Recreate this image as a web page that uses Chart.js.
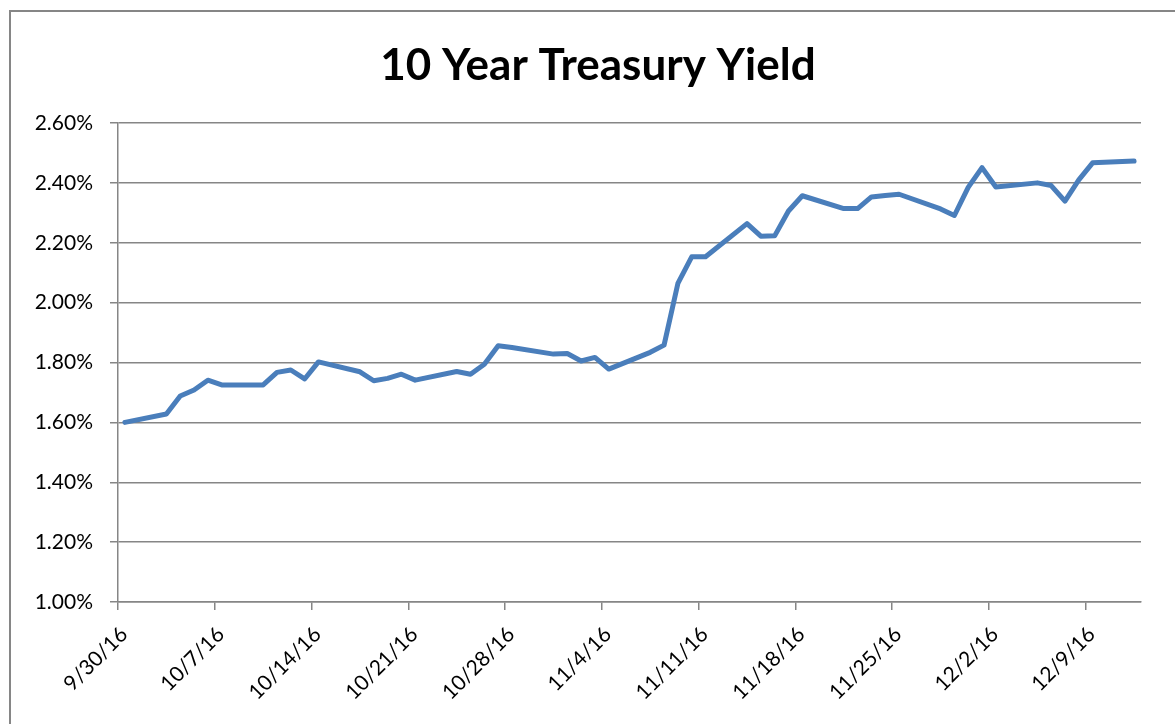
<!DOCTYPE html>
<html>
<head>
<meta charset="utf-8">
<script src="https://cdn.jsdelivr.net/npm/chart.js@4"></script>
<style>
  html, body { margin: 0; padding: 0; background: #ffffff; }
  #wrap { width: 1175px; height: 724px; position: relative; }
</style>
</head>
<body>
<div id="wrap"><canvas id="chart" width="1175" height="724"></canvas></div>
<script>
  var TITLE = "10 Year Treasury Yield";
  var START_DATE = "9/30/16";
  var AXIS_DAYS = 74;

  var DATES = [
    "9/30/16", "10/3/16", "10/4/16", "10/5/16", "10/6/16", "10/7/16",
    "10/10/16", "10/11/16", "10/12/16", "10/13/16", "10/14/16",
    "10/17/16", "10/18/16", "10/19/16", "10/20/16", "10/21/16",
    "10/24/16", "10/25/16", "10/26/16", "10/27/16", "10/28/16",
    "10/31/16", "11/1/16", "11/2/16", "11/3/16", "11/4/16",
    "11/7/16", "11/8/16", "11/9/16", "11/10/16", "11/11/16",
    "11/14/16", "11/15/16", "11/16/16", "11/17/16", "11/18/16",
    "11/21/16", "11/22/16", "11/23/16", "11/24/16", "11/25/16",
    "11/28/16", "11/29/16", "11/30/16", "12/1/16", "12/2/16",
    "12/5/16", "12/6/16", "12/7/16", "12/8/16", "12/9/16",
    "12/12/16"
  ];

  var YIELDS = [
    1.600, 1.628, 1.688, 1.708, 1.741, 1.725,
    1.725, 1.767, 1.775, 1.745, 1.802,
    1.769, 1.739, 1.747, 1.761, 1.741,
    1.770, 1.761, 1.794, 1.856, 1.850,
    1.828, 1.830, 1.805, 1.817, 1.778,
    1.834, 1.858, 2.064, 2.153, 2.153,
    2.264, 2.222, 2.223, 2.306, 2.357,
    2.314, 2.314, 2.353, 2.358, 2.362,
    2.313, 2.291, 2.385, 2.451, 2.386,
    2.400, 2.391, 2.339, 2.410, 2.467,
    2.473
  ];

  var X_TICK_LABELS = [
    "9/30/16", "10/7/16", "10/14/16", "10/21/16", "10/28/16", "11/4/16",
    "11/11/16", "11/18/16", "11/25/16", "12/2/16", "12/9/16"
  ];

  var Y_MIN = 1.0, Y_MAX = 2.6, Y_STEP = 0.2;

  function parseDate(s) {
    var p = s.split("/");
    return Date.UTC(2000 + parseInt(p[2], 10), parseInt(p[0], 10) - 1, parseInt(p[1], 10));
  }

  var start = parseDate(START_DATE);
  var points = DATES.map(function (d, i) {
    // points sit in the middle of their day slot
    return { x: (parseDate(d) - start) / 86400000 + 0.5, y: YIELDS[i] };
  });

  var GRAY = "#868686";
  var FONT = "Lato, 'Open Sans', sans-serif";

  // outer frame and the title, which Excel centres on the whole chart box
  var frame = {
    id: "frame",
    afterDraw: function (chart) {
      var ctx = chart.ctx;
      ctx.save();
      ctx.strokeStyle = GRAY;
      ctx.lineWidth = 2;
      ctx.strokeRect(10, 11, 1200, 760);
      ctx.fillStyle = "#000000";
      ctx.font = "bold 44px " + FONT;
      ctx.textAlign = "center";
      ctx.textBaseline = "alphabetic";
      ctx.fillText(TITLE, 598, 80);
      ctx.restore();
    }
  };

  new Chart(document.getElementById("chart"), {
    type: "line",
    data: {
      datasets: [{
        data: points,
        borderColor: "#4a7ebb",
        borderWidth: 5,
        borderJoinStyle: "round",
        borderCapStyle: "round",
        pointRadius: 0,
        tension: 0,
        fill: false
      }]
    },
    options: {
      responsive: false,
      animation: false,
      layout: { padding: { left: 0, right: 34, top: 123, bottom: 0 } },
      plugins: {
        legend: { display: false },
        tooltip: { enabled: false },
        title: { display: false }
      },
      scales: {
        x: {
          type: "linear",
          min: 0,
          max: AXIS_DAYS,
          afterFit: function (scale) { scale.height = 122; },
          border: { display: true, color: GRAY, width: 1.5 },
          grid: { drawOnChartArea: false, drawTicks: true, tickLength: 8, color: GRAY, lineWidth: 1.5 },
          ticks: {
            stepSize: 7,
            includeBounds: false,
            autoSkip: false,
            maxRotation: 45,
            minRotation: 45,
            padding: 12,
            labelOffset: 6,
            color: "#000000",
            font: { family: FONT, size: 21 },
            callback: function (v) {
              var k = v / 7;
              return X_TICK_LABELS[k] || "";
            }
          }
        },
        y: {
          min: Y_MIN,
          max: Y_MAX,
          afterFit: function (scale) { scale.width = 118; },
          border: { display: true, color: GRAY, width: 1.5 },
          grid: { color: GRAY, lineWidth: 1.5, tickLength: 8 },
          ticks: {
            stepSize: Y_STEP,
            padding: 17,
            color: "#000000",
            font: { family: FONT, size: 21 },
            callback: function (v) { return v.toFixed(2) + "%"; }
          }
        }
      }
    },
    plugins: [frame]
  });
</script>
</body>
</html>
